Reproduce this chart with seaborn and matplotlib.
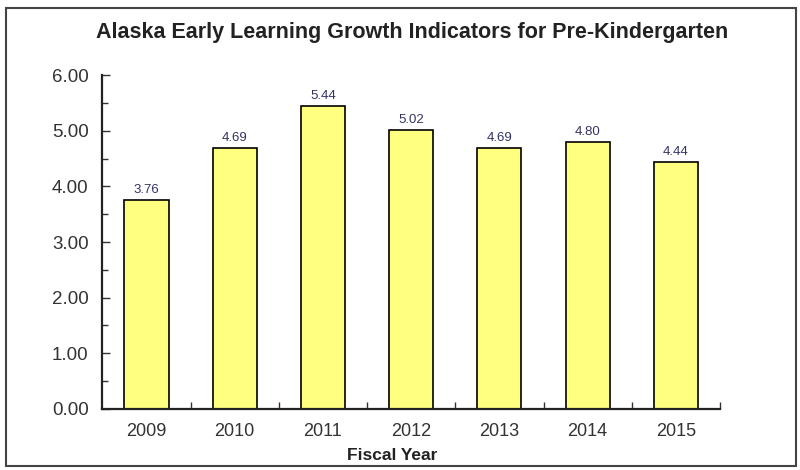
import pandas as pd
import matplotlib.pyplot as plt
import seaborn as sns
from matplotlib.patches import Rectangle
from matplotlib.ticker import MultipleLocator, FixedLocator

# values
years = ['2009', '2010', '2011', '2012', '2013', '2014', '2015']
scores = [3.76, 4.69, 5.44, 5.02, 4.69, 4.80, 4.44]

df = pd.DataFrame({'Fiscal Year': years, 'Score': scores})

sns.set_style('white')
plt.rcParams['font.family'] = ['Liberation Sans', 'DejaVu Sans']

fig = plt.figure(figsize=(8, 4.7), dpi=100)
ax = fig.add_axes([0.128, 0.13, 0.772, 0.71])

sns.barplot(data=df, x='Fiscal Year', y='Score', color='#FFFF80',
            edgecolor='black', linewidth=1.2, width=0.5, saturation=1, ax=ax)

# value labels above bars
ax.bar_label(ax.containers[0], fmt='%.2f', color='#333366', fontsize=9.5, padding=3)

ax.set_ylim(0, 6)
ax.set_xlim(-0.5, 6.5)
ax.yaxis.set_major_locator(MultipleLocator(1))
ax.yaxis.set_minor_locator(MultipleLocator(0.5))
ax.yaxis.set_major_formatter(plt.FormatStrFormatter('%.2f'))
ax.xaxis.set_minor_locator(FixedLocator([i + 0.5 for i in range(len(years))]))

ax.tick_params(axis='y', which='both', direction='in', left=True, length=6,
               width=1, labelsize=13.5, colors='#333333', pad=10)
ax.tick_params(axis='y', which='minor', length=4)
ax.tick_params(axis='x', which='major', length=0, labelsize=13, colors='#333333', pad=10)
ax.tick_params(axis='x', which='minor', direction='in', bottom=True, length=5, width=1, color='#333333')

ax.spines['top'].set_visible(False)
ax.spines['right'].set_visible(False)
for s in ['left', 'bottom']:
    ax.spines[s].set_color('#222222')
    ax.spines[s].set_linewidth(1.6)

ax.set_ylabel('')
ax.set_xlabel('Fiscal Year', fontsize=12.5, fontweight='bold', color='#222222')
ax.xaxis.set_label_coords(0.47, -0.118)

fig.text(0.515, 0.93, 'Alaska Early Learning Growth Indicators for Pre-Kindergarten',
         ha='center', va='center', fontsize=15.5, fontweight='bold', color='#222222')

# outer frame around the whole chart
fig.patches.append(Rectangle((0.008, 0.008), 0.987, 0.975, transform=fig.transFigure,
                             fill=False, edgecolor='#444444', linewidth=1.5))

fig.savefig('out.png', dpi=100)
